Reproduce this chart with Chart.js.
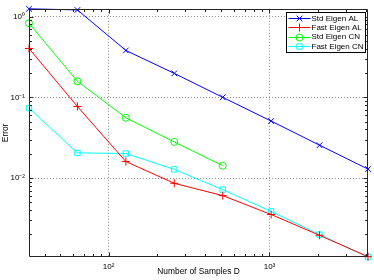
<!DOCTYPE html>
<html><head><meta charset="utf-8">
<script src="https://cdn.jsdelivr.net/npm/chart.js@4/dist/chart.umd.min.js"></script>
<style>html,body{margin:0;padding:0;background:#fff;overflow:hidden}#wrap{width:374px;height:280px}</style>
</head><body><div id="wrap"><canvas id="c" width="374" height="280"></canvas></div>
<script>
const samples = [32, 64, 128, 256, 512, 1024, 2048, 4096];
const stdEigenAL = [1.25, 1.21, 0.381, 0.198, 0.100, 0.0508, 0.0255, 0.0129];
const fastEigenAL = [0.403, 0.077, 0.016, 0.0086, 0.00605, 0.00353, 0.00195, 0.00106];
const stdEigenCN = [0.828, 0.158, 0.0558, 0.028, 0.0142];
const fastEigenCN = [0.0735, 0.0205, 0.0201, 0.0128, 0.00718, 0.00385, 0.00199, 0.00105];
const seriesNames = ['Std Eigen AL', 'Fast Eigen AL', 'Std Eigen CN', 'Fast Eigen CN'];
const xMajorTicks = [100, 1000];
const xTickLabels = ['10²', '10³'];
const yMajorTicks = [0.01, 0.1, 1];
const yTickLabels = ['10⁻²', '10⁻¹', '10⁰'];
const xTitle = 'Number of Samples D';
const yTitle = 'Error';
const xRange = [32, 4096];
const yRange = [0.00105, 1.25];

const FONT = '"Liberation Sans", Arial, Helvetica, sans-serif';
const toXY = (xs, ys) => ys.map((v, i) => ({x: xs[i], y: v}));

function mkSet(label, ys, color, style, r) {
  return {
    label, data: toXY(samples, ys), showLine: true,
    borderColor: color, backgroundColor: color, borderWidth: 1,
    pointStyle: style, pointRadius: r, pointHoverRadius: r,
    pointBorderColor: color, pointBackgroundColor: 'rgba(0,0,0,0)', pointBorderWidth: 1,
    tension: 0, clip: false
  };
}

function minorValues(min, max) {
  const out = [];
  for (let e = -4; e <= 5; e++) {
    for (let m = 1; m <= 9; m++) {
      const v = m * Math.pow(10, e);
      if (v >= min * 0.9999 && v <= max * 1.0001) out.push({v, major: m === 1});
    }
  }
  return out;
}

const axesPlugin = {
  id: 'matlabAxes',
  afterDatasetsDraw(chart) {
    const {ctx, chartArea: a, scales: {x, y}} = chart;
    const L = Math.round(a.left) + 0.5, R = Math.round(a.right) - 0.5;
    const T = Math.round(a.top) + 0.5, B = Math.round(a.bottom) - 0.5;
    ctx.save();
    ctx.strokeStyle = '#262626';
    ctx.lineWidth = 1;
    ctx.beginPath();
    ctx.rect(L, T, R - L, B - T);
    ctx.stroke();
    ctx.beginPath();
    minorValues(x.min, x.max).forEach(t => {
      const px = Math.round(x.getPixelForValue(t.v)) + 0.5;
      const len = t.major ? 4 : 2.5;
      ctx.moveTo(px, B); ctx.lineTo(px, B - len);
      ctx.moveTo(px, T); ctx.lineTo(px, T + len);
    });
    minorValues(y.min, y.max).forEach(t => {
      const py = Math.round(y.getPixelForValue(t.v)) + 0.5;
      const len = t.major ? 4 : 2.5;
      ctx.moveTo(L, py); ctx.lineTo(L + len, py);
      ctx.moveTo(R, py); ctx.lineTo(R - len, py);
    });
    ctx.stroke();
    ctx.restore();
  },
  afterDraw(chart) {
    const {ctx, chartArea: a} = chart;
    const bx = Math.round(a.right) - 81.5, by = Math.round(a.top) + 3.5;
    const bw = 79, bh = 40;
    ctx.save();
    ctx.fillStyle = '#fff';
    ctx.fillRect(bx, by, bw, bh);
    ctx.strokeStyle = '#000';
    ctx.lineWidth = 1;
    ctx.strokeRect(bx, by, bw, bh);
    ctx.font = '8px ' + FONT;
    ctx.textBaseline = 'middle';
    ctx.textAlign = 'left';
    chart.data.datasets.forEach((ds, i) => {
      const yy = by + 5.5 + i * 9.3;
      const ly = Math.round(yy) + 0.5;
      ctx.strokeStyle = ds.borderColor;
      ctx.lineWidth = 1;
      ctx.beginPath();
      ctx.moveTo(bx + 2, ly);
      ctx.lineTo(bx + 24, ly);
      ctx.stroke();
      ctx.fillStyle = 'rgba(0,0,0,0)';
      Chart.helpers.drawPoint(ctx, {pointStyle: ds.pointStyle, radius: ds.pointRadius, rotation: 0, borderWidth: 1}, bx + 13, ly);
      ctx.fillStyle = '#000';
      ctx.fillText(ds.label, bx + 25, yy + 0.5);
    });
    ctx.restore();
  }
};

const gridCfg = {display: true, drawTicks: false, color: '#8c8c8c', lineWidth: 1};
const borderCfg = {display: false, dash: [1, 2]};

new Chart(document.getElementById('c'), {
  type: 'scatter',
  data: {
    datasets: [
      mkSet(seriesNames[0], stdEigenAL, '#0000ff', 'crossRot', 4),
      mkSet(seriesNames[1], fastEigenAL, '#ff0000', 'cross', 4),
      mkSet(seriesNames[2], stdEigenCN, '#00ff00', 'circle', 3.5),
      mkSet(seriesNames[3], fastEigenCN, '#00ffff', 'rect', 3.8)
    ]
  },
  options: {
    responsive: false, animation: false, devicePixelRatio: 1,
    layout: {padding: {left: 0, top: 7, right: 6, bottom: 0}},
    plugins: {legend: {display: false}, tooltip: {enabled: false}},
    scales: {
      x: {
        type: 'logarithmic', position: 'bottom', min: xRange[0], max: xRange[1],
        afterBuildTicks: s => { s.ticks = xMajorTicks.map(v => ({value: v})); },
        afterFit: s => { s.height = 23; },
        ticks: {autoSkip: false, maxRotation: 0, padding: 5, color: '#000', font: {family: FONT, size: 8},
          callback: (v, i) => xTickLabels[i]},
        grid: gridCfg, border: borderCfg,
        title: {display: true, text: xTitle, color: '#000', font: {family: FONT, size: 8.4}, padding: {top: 0, bottom: 3}}
      },
      y: {
        type: 'logarithmic', position: 'left', min: yRange[0], max: yRange[1],
        afterBuildTicks: s => { s.ticks = yMajorTicks.map(v => ({value: v})); },
        afterFit: s => { s.width = 29; },
        ticks: {autoSkip: false, padding: 4, color: '#000', font: {family: FONT, size: 8},
          callback: (v, i) => yTickLabels[i]},
        grid: gridCfg, border: borderCfg,
        title: {display: true, text: yTitle, color: '#000', font: {family: FONT, size: 8.4}, padding: {top: 1, bottom: 0}}
      }
    }
  },
  plugins: [axesPlugin]
});
</script>
</body></html>
